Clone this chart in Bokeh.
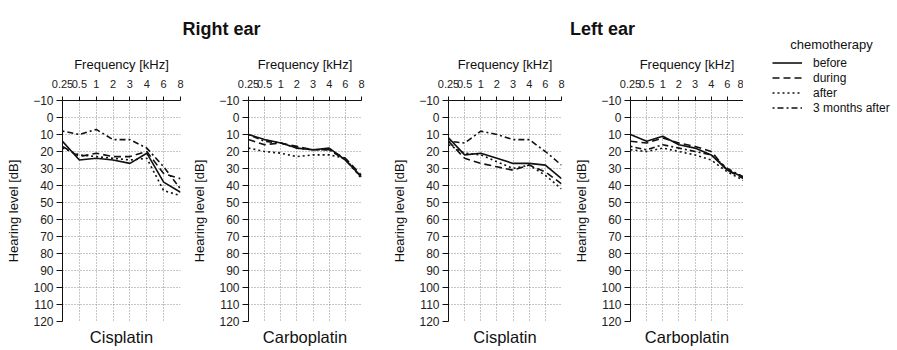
from bokeh.plotting import figure
from bokeh.models import Range1d, FixedTicker, Label, Legend, LegendItem
from bokeh.layouts import column, row
from bokeh.embed import file_html
from bokeh.resources import INLINE

# ---------------- data ----------------
freq_labels = ["0.25", "0.5", "1", "2", "3", "4", "6", "8"]
db_ticks = [-10, 0, 10, 20, 30, 40, 50, 60, 70, 80, 90, 100, 110, 120]
grid_db = [0, 10, 20, 30, 40, 50, 60, 70, 80, 90, 100, 110]
phases = ["before", "during", "after", "3 months after"]
ears = ["Right ear", "Left ear"]
drugs = ["Cisplatin", "Carboplatin", "Cisplatin", "Carboplatin"]

right_cis_before = [14, 25, 24, 25, 27, 21, 38, 44]
right_cis_during = [17, 23, 21, 23, 23, 20, 33, 36]
right_cis_after = [18, 22, 23, 24, 25, 24, 43, 46]
right_cis_3m = [8, 10, 7, 13, 13, 18, 29, 42]

right_carbo_before = [10, 13, 15, 18, 19, 18, 25, 35]
right_carbo_during = [13, 16, 15, 17, 19, 19, 24, 34]
right_carbo_after = [18, 20, 21, 23, 22, 22, 24, 36]
right_carbo_3m = [10, 14, 15, 18, 19, 19, 25, 35]

left_cis_before = [12, 22, 21, 24, 27, 27, 28, 36]
left_cis_during = [14, 24, 27, 29, 31, 28, 32, 39]
left_cis_after = [16, 21, 22, 26, 30, 28, 34, 42]
left_cis_3m = [14, 15, 8, 10, 13, 13, 20, 28]

left_carbo_before = [10, 14, 11, 16, 18, 22, 31, 35]
left_carbo_during = [14, 15, 12, 15, 17, 20, 31, 36]
left_carbo_after = [19, 20, 18, 20, 22, 25, 32, 37]
left_carbo_3m = [17, 19, 16, 18, 20, 22, 30, 35]

panels = [
    [right_cis_before, right_cis_during, right_cis_after, right_cis_3m],
    [right_carbo_before, right_carbo_during, right_carbo_after, right_carbo_3m],
    [left_cis_before, left_cis_during, left_cis_after, left_cis_3m],
    [left_carbo_before, left_carbo_during, left_carbo_after, left_carbo_3m],
]

# ---------------- style ----------------
FONT = "Liberation Sans"
INK = "#111111"
dashes = ["solid", "7 4", "2 3", "2 3 6 3"]
x_pos = list(range(len(freq_labels)))

HEADER_H = 53
PH = 297
widths = [189, 200, 182, 172]
lefts = [62, 54, 54, 54]
rights = [9, 28, 10, 0]
LEG_W = 154
TOTAL_H = HEADER_H + PH


def make_panel(series, drug, width, left, right):
    p = figure(width=width, height=PH, x_range=Range1d(0, len(freq_labels) - 1),
               y_range=Range1d(120, -10), x_axis_location="above",
               title=drug, title_location="below",
               toolbar_location=None, output_backend="svg",
               min_border_left=left, min_border_right=right,
               min_border_top=45, min_border_bottom=28)
    p.outline_line_color = None
    p.background_fill_color = "white"
    p.title.align = "center"
    p.title.text_font = FONT
    p.title.text_font_size = "16.5px"
    p.title.text_font_style = "normal"
    p.title.text_color = INK
    p.title.standoff = 9

    xa = p.xaxis[0]
    xa.ticker = FixedTicker(ticks=x_pos)
    xa.major_label_overrides = {i: lab for i, lab in zip(x_pos, freq_labels)}
    xa.axis_label = "Frequency [kHz]"
    ya = p.yaxis[0]
    ya.ticker = FixedTicker(ticks=db_ticks)
    ya.axis_label = "Hearing level [dB]"
    for ax, tick_out, lab_size, lab_std, ax_std in ((xa, 4, "11px", 9, 5), (ya, 6, "12px", 3, 9)):
        ax.major_tick_out = tick_out
        ax.major_tick_in = 0
        ax.minor_tick_out = 0
        ax.minor_tick_in = 0
        ax.axis_line_color = INK
        ax.major_tick_line_color = INK
        ax.major_label_text_font = FONT
        ax.major_label_text_font_size = lab_size
        ax.major_label_text_color = "#222222"
        ax.major_label_standoff = lab_std
        ax.axis_label_text_font = FONT
        ax.axis_label_text_font_size = "13px"
        ax.axis_label_text_font_style = "normal"
        ax.axis_label_text_color = INK
        ax.axis_label_standoff = ax_std

    p.xgrid.ticker = FixedTicker(ticks=x_pos[1:-1])
    p.ygrid.ticker = FixedTicker(ticks=grid_db)
    for g in (p.xgrid, p.ygrid):
        g.grid_line_color = "#8c8c8c"
        g.grid_line_dash = "1 2"
        g.grid_line_width = 1

    for vals, dash in zip(series, dashes):
        p.line(x=x_pos, y=vals, line_color=INK, line_width=1.6, line_dash=dash)
    return p


figs = [make_panel(panels[k], drugs[k], widths[k], lefts[k], rights[k]) for k in range(4)]

# legend column: the four line styles are drawn off-view so only their legend entries show
leg = figure(width=LEG_W, height=TOTAL_H, x_range=Range1d(100, 101), y_range=Range1d(120, -10),
             x_axis_type=None, y_axis_type=None,
             toolbar_location=None, output_backend="svg", min_border=0)
leg.outline_line_color = None
leg.grid.visible = False
leg_rends = [leg.line(x=x_pos, y=vals, line_color=INK, line_width=1.6, line_dash=dash)
             for vals, dash in zip(panels[3], dashes)]
legend = Legend(items=[LegendItem(label=ph, renderers=[r]) for ph, r in zip(phases, leg_rends)],
                location=(29, TOTAL_H - 55 - 60), orientation="vertical",
                glyph_width=30, glyph_height=15, label_height=15, label_width=20,
                spacing=0, padding=0, margin=0, label_standoff=11,
                border_line_color=None, background_fill_alpha=0,
                label_text_font=FONT, label_text_font_size="12px", label_text_color=INK)
leg.add_layout(legend)
leg.add_layout(Label(x=88, y=TOTAL_H - 44, x_units="screen", y_units="screen",
                     text="chemotherapy", text_align="center", text_baseline="alphabetic",
                     text_font=FONT, text_font_size="13px", text_color=INK))

header = figure(width=sum(widths), height=HEADER_H, x_range=Range1d(0, sum(widths)),
                y_range=Range1d(0, HEADER_H), x_axis_type=None, y_axis_type=None,
                toolbar_location=None, output_backend="svg", min_border=0)
header.outline_line_color = None
header.grid.visible = False
for txt, cx in zip(ears, [221, 602]):
    header.add_layout(Label(x=cx, y=HEADER_H - 28, text=txt, text_align="center",
                            text_baseline="alphabetic", text_font=FONT, text_font_size="18px",
                            text_font_style="bold", text_color=INK))

layout = row(column(header, row(*figs, spacing=0), spacing=0), leg, spacing=0)
open("out.html", "w").write(file_html(layout, INLINE))
